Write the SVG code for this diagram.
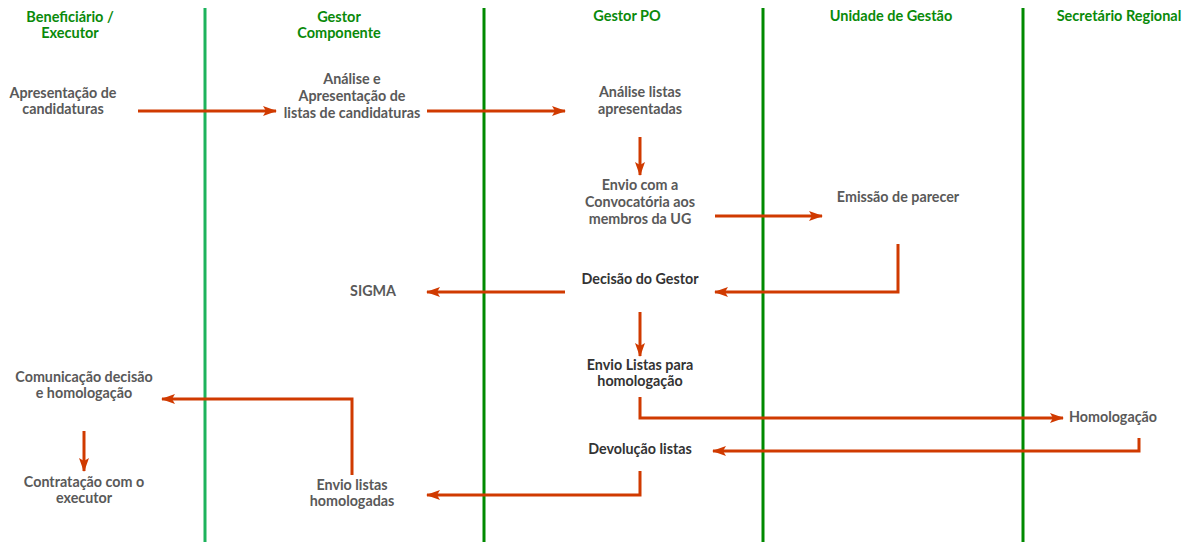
<svg xmlns="http://www.w3.org/2000/svg" width="1192" height="542" viewBox="0 0 1192 542">
<style>
.lane{stroke-width:3;fill:none}
.hd{font-family:Lato,"Noto Sans",sans-serif;font-weight:bold;font-size:14.5px;fill:#0a8a0a;text-anchor:middle}
.t{font-family:Lato,"Noto Sans",sans-serif;font-weight:bold;font-size:14.3px;fill:#595959;text-anchor:middle}
.d{fill:#333333}
.c{stroke:#d03a00;stroke-width:3;fill:none;marker-end:url(#ah)}
</style>
<defs>
<marker id="ah" viewBox="0 0 14 10" refX="13" refY="5" markerWidth="14" markerHeight="10" markerUnits="userSpaceOnUse" orient="auto">
<path d="M0,0 L14,5 L0,10 L3,5 Z" fill="#d03a00"/>
</marker>
</defs>
<rect width="1192" height="542" fill="#ffffff"/>
<g id="lanes">
<line class="lane" x1="205" y1="8" x2="205" y2="542" stroke="#1db35c"/>
<line class="lane" x1="484" y1="8" x2="484" y2="542" stroke="#008a00"/>
<line class="lane" x1="763" y1="8" x2="763" y2="542" stroke="#008a00"/>
<line class="lane" x1="1023" y1="8" x2="1023" y2="542" stroke="#008a00"/>
</g>
<g id="headers">
<text class="hd" x="70" y="22">Beneficiário /</text>
<text class="hd" x="70" y="38">Executor</text>
<text class="hd" x="339" y="22">Gestor</text>
<text class="hd" x="339" y="38">Componente</text>
<text class="hd" x="627" y="21">Gestor PO</text>
<text class="hd" x="891" y="21">Unidade de Gestão</text>
<text class="hd" x="1119" y="21">Secretário Regional</text>
</g>
<g id="connectors">
<path class="c" d="M138,111 H276"/>
<path class="c" d="M427,111 H565"/>
<path class="c" d="M640,137 V175"/>
<path class="c" d="M715,216 H822"/>
<path class="c" d="M898,244 V292 H715"/>
<path class="c" d="M565,292 H427"/>
<path class="c" d="M640,312 V356"/>
<path class="c" d="M640,397 V418 H1063"/>
<path class="c" d="M1139,438 V451 H713"/>
<path class="c" d="M640,471 V495 H427"/>
<path class="c" d="M352,475 V399 H162"/>
<path class="c" d="M84,431 V471"/>
</g>
<g id="n-apresentacao"><text class="t" x="63" y="98">Apresentação de</text><text class="t" x="63" y="114">candidaturas</text></g>
<g id="n-analise"><text class="t" x="352" y="84">Análise e</text><text class="t" x="352" y="101">Apresentação de</text><text class="t" x="352" y="118">listas de candidaturas</text></g>
<g id="n-analise-listas"><text class="t" x="640" y="97">Análise listas</text><text class="t" x="640" y="114">apresentadas</text></g>
<g id="n-envio"><text class="t" x="640" y="190">Envio com a</text><text class="t" x="640" y="207">Convocatória aos</text><text class="t" x="640" y="224">membros da UG</text></g>
<g id="n-emissao"><text class="t" x="898" y="202">Emissão de parecer</text></g>
<g id="n-decisao"><text class="t d" x="640" y="284">Decisão do Gestor</text></g>
<g id="n-sigma"><text class="t" x="373" y="296">SIGMA</text></g>
<g id="n-envio-listas"><text class="t d" x="640" y="370">Envio Listas para</text><text class="t d" x="640" y="386">homologação</text></g>
<g id="n-homologacao"><text class="t" x="1113" y="422">Homologação</text></g>
<g id="n-devolucao"><text class="t d" x="640" y="454">Devolução listas</text></g>
<g id="n-comunicacao"><text class="t" x="84" y="382">Comunicação decisão</text><text class="t" x="84" y="398">e homologação</text></g>
<g id="n-contratacao"><text class="t" x="84" y="487">Contratação com o</text><text class="t" x="84" y="503">executor</text></g>
<g id="n-envio-homologadas"><text class="t" x="352" y="490">Envio listas</text><text class="t" x="352" y="506">homologadas</text></g>
</svg>
